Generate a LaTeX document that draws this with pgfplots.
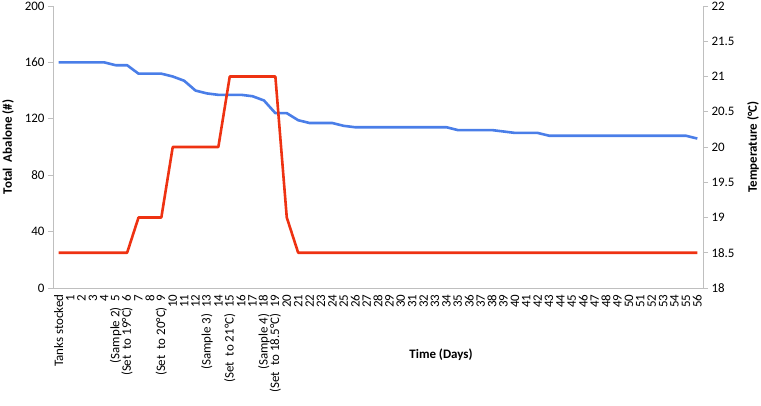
\documentclass[border=0pt]{standalone}
\usepackage{pgfplots}
\pgfplotsset{compat=1.18}
\usepackage{fontspec}
\setmainfont{Carlito}

\definecolor{axisgray}{RGB}{191,191,191}
\definecolor{abblue}{RGB}{74,126,232}
\definecolor{tempred}{RGB}{238,50,18}

\pgfplotsset{
  base/.style={
    scale only axis, width=650bp, height=282bp,
    xmin=-0.5, xmax=56.5,
    axis line style={draw=axisgray, line width=0.8bp, -},
    tick align=outside, major tick length=5bp,
    ytick style={draw=axisgray, line width=0.8bp},
    xtick style={draw=none},
    tick label style={font=\fontsize{13}{15}\selectfont, /pgf/number format/assume math mode=true},
    clip=false,
  },
}

\begin{document}
\begin{tikzpicture}
\begin{axis}[
  base,
  axis x line*=bottom, axis y line*=left,
  ymin=0, ymax=200,
  ytick={0,40,...,200},
  xtick={0,...,56},
  xticklabels={Tanks stocked,1,2,3,4,{(Sample 2)~~5},{(Set~ to 19°C)~~6},7,8,
    {(Set~ to 20°C)~~9},10,11,12,{(Sample 3)~~13},14,{(Set~ to 21°C)~~15},16,17,
    {(Sample 4)~~18},{(Set~ to 18.5°C)~~19},20,21,22,23,24,25,26,27,28,29,30,31,32,33,34,
    35,36,37,38,39,40,41,42,43,44,45,46,47,48,49,50,51,52,53,54,55,56},
  x tick label style={rotate=90, anchor=east, inner sep=1.5bp,
    font=\fontsize{13}{15}\selectfont},
  every axis y label/.style={at={(axis description cs:0,0.5)}, xshift=-45bp,
    anchor=center, rotate=90, font=\bfseries\fontsize{13}{15}\selectfont},
  every axis x label/.style={at={(axis description cs:0,0)}, xshift=388bp,
    yshift=-67bp, anchor=center, font=\bfseries\fontsize{13}{15}\selectfont},
  ylabel={Total~ Abalone (\#)},
  xlabel={Time (Days)},
]
\addplot[abblue, line width=2.6bp, line join=round, mark=none] coordinates {
  (0,160) (1,160) (2,160) (3,160) (4,160) (5,158) (6,158) (7,152) (8,152) (9,152)
  (10,150) (11,147) (12,140) (13,138) (14,137) (15,137) (16,137) (17,136) (18,133)
  (19,124) (20,124) (21,119) (22,117) (23,117) (24,117) (25,115) (26,114) (27,114)
  (28,114) (29,114) (30,114) (31,114) (32,114) (33,114) (34,114) (35,112) (36,112)
  (37,112) (38,112) (39,111) (40,110) (41,110) (42,110) (43,108) (44,108) (45,108)
  (46,108) (47,108) (48,108) (49,108) (50,108) (51,108) (52,108) (53,108) (54,108)
  (55,108) (56,106)
};
\end{axis}
\begin{axis}[
  base,
  axis x line=none, axis y line*=right,
  ymin=18, ymax=22,
  ytick={18,18.5,...,22},
  every axis y label/.style={at={(axis description cs:1,0.5)}, xshift=50bp,
    anchor=center, rotate=90, font=\bfseries\fontsize{13}{15}\selectfont},
  ylabel={Temperature (°C)},
]
\addplot[tempred, line width=2.6bp, line join=round, mark=none] coordinates {
  (0,18.5) (1,18.5) (2,18.5) (3,18.5) (4,18.5) (5,18.5) (6,18.5) (7,19) (8,19) (9,19)
  (10,20) (11,20) (12,20) (13,20) (14,20) (15,21) (16,21) (17,21) (18,21) (19,21)
  (20,19) (21,18.5) (22,18.5) (23,18.5) (24,18.5) (25,18.5) (26,18.5) (27,18.5)
  (28,18.5) (29,18.5) (30,18.5) (31,18.5) (32,18.5) (33,18.5) (34,18.5) (35,18.5)
  (36,18.5) (37,18.5) (38,18.5) (39,18.5) (40,18.5) (41,18.5) (42,18.5) (43,18.5)
  (44,18.5) (45,18.5) (46,18.5) (47,18.5) (48,18.5) (49,18.5) (50,18.5) (51,18.5)
  (52,18.5) (53,18.5) (54,18.5) (55,18.5) (56,18.5)
};
\end{axis}
\pgfresetboundingbox
\useasboundingbox (-53bp,-118bp) rectangle (708bp,288bp);
\end{tikzpicture}
\end{document}
